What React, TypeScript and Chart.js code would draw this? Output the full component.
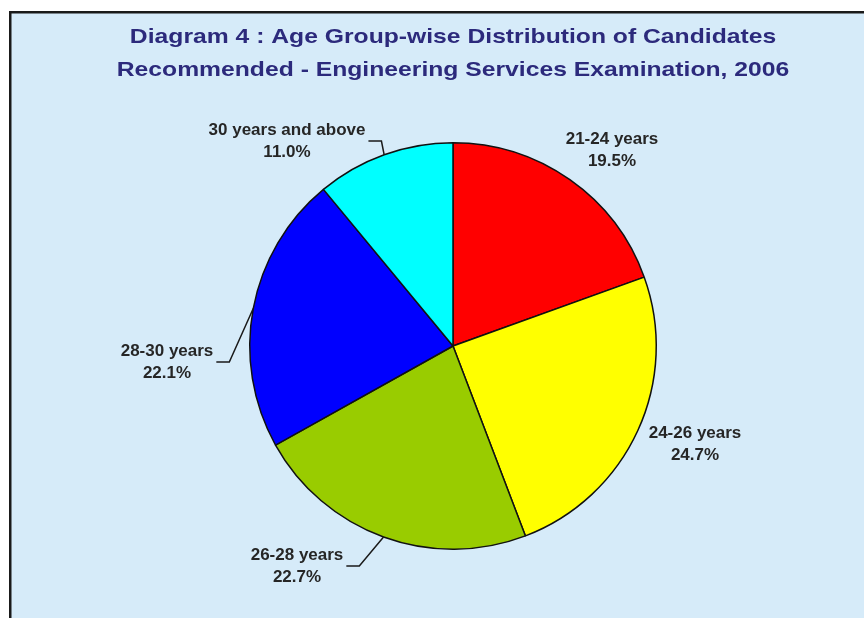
import React, { useEffect, useRef } from "react";
import { Chart, registerables } from "chart.js";

Chart.register(...registerables);

const titleLines = [
  "Diagram 4 : Age Group-wise Distribution of Candidates",
  "Recommended - Engineering Services Examination, 2006",
];
const categories = ["21-24 years", "24-26 years", "26-28 years", "28-30 years", "30 years and above"];
const shares = [19.5, 24.7, 22.7, 22.1, 11.0];
const sliceColors = ["#FF0000", "#FFFF00", "#99CC00", "#0000FF", "#00FFFF"];

// label placement (layout config, relative to pie centre, px)
const labelOffsets = [
  { dx: 159, dy: -196, leader: false },
  { dx: 242, dy: 98, leader: false },
  { dx: -156, dy: 220, leader: true },
  { dx: -286, dy: 16, leader: true },
  { dx: -166, dy: -205, leader: true },
];

const FONT = '"Liberation Sans", Arial, Helvetica, sans-serif';

const framePlugin = {
  id: "frame",
  beforeDraw(chart: any) {
    const ctx = chart.ctx;
    const w = chart.width;
    const h = chart.height;
    ctx.save();
    ctx.fillStyle = "#ffffff";
    ctx.fillRect(0, 0, w, h);
    ctx.fillStyle = "#D6EBF9";
    ctx.fillRect(11, 13, w - 11, h - 13);
    ctx.fillStyle = "#1a1a1a";
    ctx.fillRect(9, 11, w - 9, 2.5);
    ctx.fillRect(9, 11, 2.5, h - 11);
    ctx.restore();
  },
  afterDraw(chart: any) {
    const ctx = chart.ctx;
    const meta = chart.getDatasetMeta(0);
    const first = meta.data[0];
    const cx = first.x;
    const cy = first.y;
    // title
    ctx.save();
    ctx.fillStyle = "#2c2a7c";
    ctx.font = `bold 21px ${FONT}`;
    ctx.textAlign = "center";
    ctx.textBaseline = "middle";
    titleLines.forEach((line, i) => {
      ctx.save();
      ctx.translate(cx, 37 + i * 33);
      ctx.scale(1.176, 1);
      ctx.fillText(line, 0, 0);
      ctx.restore();
    });
    ctx.restore();

    // labels
    ctx.save();
    ctx.font = `bold 17px ${FONT}`;
    ctx.textAlign = "center";
    ctx.textBaseline = "middle";
    meta.data.forEach((arc: any, i: number) => {
      const p = arc.getProps(["x", "y", "startAngle", "endAngle", "outerRadius"], true);
      const mid = (p.startAngle + p.endAngle) / 2;
      const ax = p.x + Math.cos(mid) * p.outerRadius;
      const ay = p.y + Math.sin(mid) * p.outerRadius;
      const off = labelOffsets[i];
      const lx = p.x + off.dx;
      const ly = p.y + off.dy;
      const l1 = categories[i];
      const l2 = shares[i].toFixed(1) + "%";
      if (off.leader) {
        const wdt = Math.max(ctx.measureText(l1).width, ctx.measureText(l2).width);
        const sx = lx + wdt / 2 + 3;
        ctx.strokeStyle = "#1a1a1a";
        ctx.lineWidth = 1.5;
        ctx.beginPath();
        ctx.moveTo(sx, ly);
        ctx.lineTo(sx + 13, ly);
        ctx.lineTo(ax, ay);
        ctx.stroke();
      }
      ctx.fillStyle = "#262626";
      ctx.fillText(l1, lx, ly - 11);
      ctx.fillText(l2, lx, ly + 11);
    });
    ctx.restore();
  },
};

export default function App() {
  const ref = useRef<HTMLCanvasElement | null>(null);
  useEffect(() => {
    if (!ref.current) return;
    const chart = new Chart(ref.current, {
      type: "pie",
      data: {
        labels: categories,
        datasets: [
          {
            data: shares,
            backgroundColor: sliceColors,
            borderColor: "#111111",
            borderWidth: 1.5,
          },
        ],
      },
      options: {
        responsive: false,
        animation: false,
        devicePixelRatio: 1,
        layout: { padding: { top: 142, bottom: 68, left: 249, right: 207 } },
        plugins: {
          legend: { display: false },
          title: { display: false },
          tooltip: { enabled: false },
        },
      },
      plugins: [framePlugin],
    });
    return () => chart.destroy();
  }, []);
  return (
    <div style={{ position: "absolute", left: 0, top: 0, width: 864, height: 618 }}>
      <canvas ref={ref} width={864} height={618} style={{ display: "block" }} />
    </div>
  );
}
